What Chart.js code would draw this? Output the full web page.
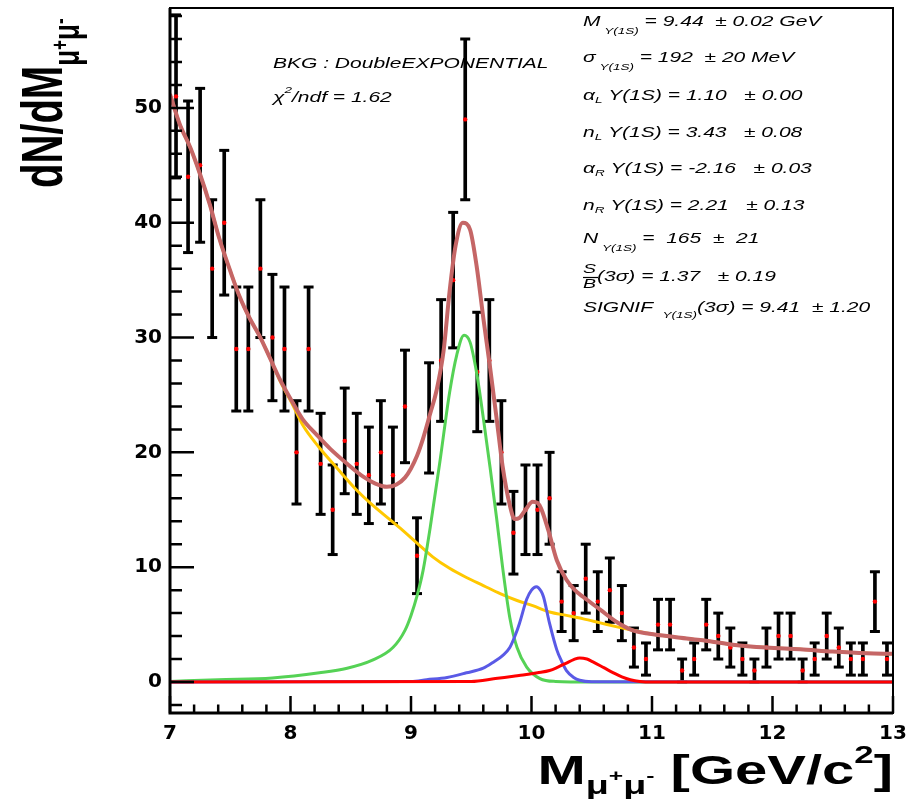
<!DOCTYPE html>
<html>
<head>
<meta charset="utf-8">
<script src="https://cdn.jsdelivr.net/npm/chart.js@4.4.1/dist/chart.umd.min.js"></script>
<style>
  html, body { margin: 0; padding: 0; background: #fff; }
  #wrap { width: 911px; height: 803px; position: relative; }
</style>
</head>
<body>
<div id="wrap"><canvas id="c"></canvas></div>
<script>
// dimuon mass spectrum, 0.1 GeV bins
const binCenters = [
  7.05, 7.15, 7.25, 7.35, 7.45, 7.55, 7.65, 7.75, 7.85, 7.95,
  8.05, 8.15, 8.25, 8.35, 8.45, 8.55, 8.65, 8.75, 8.85, 8.95,
  9.05, 9.15, 9.25, 9.35, 9.45, 9.55, 9.65, 9.75, 9.85, 9.95,
  10.05, 10.15, 10.25, 10.35, 10.45, 10.55, 10.65, 10.75, 10.85, 10.95,
  11.05, 11.15, 11.25, 11.35, 11.45, 11.55, 11.65, 11.75, 11.85, 11.95,
  12.05, 12.15, 12.25, 12.35, 12.45, 12.55, 12.65, 12.75, 12.85, 12.95
];
const counts = [
  51, 44, 45, 36, 40, 29, 29, 36, 30, 29,
  20, 29, 19, 15, 21, 19, 18, 20, 18, 24,
  11, 23, 28, 35, 49, 27, 28, 20, 13, 15,
  15, 16, 7, 6, 9, 7, 8, 6, 3, 2,
  5, 5, 1, 2, 5, 4, 3, 2, 1, 3,
  4, 4, 1, 2, 4, 3, 2, 2, 7, 2
];
const errors = [
  7.1, 6.6, 6.7, 6.0, 6.3, 5.4, 5.4, 6.0, 5.5, 5.4,
  4.5, 5.4, 4.4, 3.9, 4.6, 4.4, 4.2, 4.5, 4.2, 4.9,
  3.3, 4.8, 5.3, 5.9, 7.0, 5.2, 5.3, 4.5, 3.6, 3.9,
  3.9, 4.0, 2.6, 2.4, 3.0, 2.6, 2.8, 2.4, 1.7, 1.4,
  2.2, 2.2, 1.0, 1.4, 2.2, 2.0, 1.7, 1.4, 1.0, 1.7,
  2.0, 2.0, 1.0, 1.4, 2.0, 1.7, 1.4, 1.4, 2.6, 1.4
];

// fit components
const totalX = [7.0, 7.08, 7.17, 7.25, 7.33, 7.41, 7.5, 7.58, 7.66, 7.75, 7.83, 7.91, 8.02, 8.1, 8.22, 8.33,
  8.47, 8.6, 8.7, 8.8, 8.88, 8.95, 9.0, 9.05, 9.1, 9.16, 9.21, 9.27, 9.32, 9.37, 9.43, 9.49, 9.545,
  9.6, 9.656, 9.71, 9.76, 9.82, 9.86, 9.9, 9.95, 10.01, 10.05, 10.08, 10.14, 10.21, 10.29, 10.36,
  10.43, 10.57, 10.71, 10.84, 10.98, 11.2, 11.4, 11.67, 11.95, 12.23, 12.5, 12.78, 13.0];
const totalY = [51.2, 48.6, 46.5, 44.2, 41.6, 38.6, 35.8, 33.5, 31.7, 30.0, 28.2, 26.4, 24.3, 22.9, 21.5, 20.3,
  19.0, 17.9, 17.3, 17.0, 17.2, 17.8, 18.6, 19.7, 21.2, 23.4, 25.3, 28.8, 34.0, 38.0, 40.0, 39.4, 36.2,
  31.7, 27.4, 23.0, 18.8, 15.4, 14.2, 14.3, 15.0, 15.7, 15.6, 15.1, 13.2, 10.6, 8.9, 8.0,
  7.4, 6.3, 5.2, 4.5, 4.2, 3.9, 3.65, 3.25, 3.0, 2.85, 2.65, 2.5, 2.45];

const bkgX = [7.0, 7.08, 7.17, 7.25, 7.33, 7.41, 7.5, 7.58, 7.66, 7.75, 7.83, 7.91, 8.02, 8.1, 8.24, 8.38,
  8.55, 8.66, 8.83, 8.91, 9.05, 9.18, 9.32, 9.46, 9.6, 9.74, 9.88, 10.01, 10.15, 10.29, 10.43, 10.57,
  10.71, 10.84, 10.98, 11.2, 11.4, 11.67, 11.95, 12.23, 12.5, 12.78, 13.0];
const bkgY = [51.2, 48.6, 46.5, 44.2, 41.6, 38.6, 35.8, 33.5, 31.7, 30.0, 28.2, 26.3, 24.1, 22.4, 20.4, 18.7,
  16.7, 15.6, 14.1, 13.4, 12.1, 10.9, 9.9, 9.1, 8.4, 7.7, 7.1, 6.65, 6.1, 5.8, 5.5, 5.15,
  4.8, 4.5, 4.2, 3.9, 3.65, 3.25, 3.0, 2.85, 2.65, 2.5, 2.45];

const y1sX = [7.0, 7.4, 7.85, 8.24, 8.47, 8.68, 8.85, 8.95, 9.0, 9.05, 9.1, 9.16, 9.24, 9.32, 9.38, 9.44,
  9.49, 9.545, 9.6, 9.656, 9.71, 9.76, 9.82, 9.88, 9.96, 10.07, 10.2, 10.5, 13.0];
const y1sY = [0.05, 0.2, 0.35, 0.8, 1.2, 1.9, 3.0, 4.5, 5.8, 7.5, 9.7, 13.5, 19.2, 25.2, 28.5, 30.2,
  29.6, 26.9, 23.0, 18.7, 14.3, 10.0, 5.6, 3.0, 1.3, 0.3, 0.05, 0, 0];

const y2sX = [7.0, 9.0, 9.13, 9.3, 9.46, 9.6, 9.68, 9.76, 9.82, 9.87, 9.9, 9.96, 10.0, 10.04, 10.08, 10.1,
  10.15, 10.21, 10.25, 10.29, 10.35, 10.4, 10.5, 13.0];
const y2sY = [0, 0.05, 0.2, 0.4, 0.8, 1.2, 1.7, 2.3, 3.0, 4.2, 5.1, 7.2, 8.0, 8.3, 7.9, 7.4,
  5.1, 2.8, 1.8, 1.0, 0.4, 0.15, 0.02, 0];

const y3sX = [7.0, 9.5, 9.7, 9.85, 9.93, 10.05, 10.15, 10.22, 10.29, 10.35, 10.4, 10.46, 10.51, 10.6,
  10.68, 10.75, 10.82, 10.9, 11.0, 13.0];
const y3sY = [0, 0.05, 0.3, 0.5, 0.6, 0.8, 1.0, 1.3, 1.65, 1.95, 2.1, 2.0, 1.75, 1.25,
  0.8, 0.45, 0.2, 0.05, 0, 0];

const xTickLabels = [7, 8, 9, 10, 11, 12, 13];
const yTickLabels = [0, 10, 20, 30, 40, 50];

const pts = (xs, ys) => xs.map((x, i) => ({ x: x, y: ys[i] }));

function curve(label, xs, ys, color, width, order) {
  return {
    type: 'line',
    label: label,
    data: pts(xs, ys),
    borderColor: color,
    borderWidth: width,
    pointRadius: 0,
    fill: false,
    cubicInterpolationMode: 'monotone',
    order: order
  };
}

// draws a row of text pieces (sub/superscripts), stretched sideways like the original
function richText(ctx, x, y, parts, sx, alignRight) {
  let w = 0;
  parts.forEach(p => { ctx.font = p.font; p.w = ctx.measureText(p.t).width; w += p.w; });
  ctx.save();
  ctx.translate(alignRight ? x - w * sx : x, y);
  ctx.scale(sx, 1);
  let cx = 0;
  parts.forEach(p => { ctx.font = p.font; ctx.fillText(p.t, cx, p.dy || 0); cx += p.w; });
  ctx.restore();
}

const IT = 'italic 14px "Liberation Sans"';
const ITS = 'italic 9px "Liberation Sans"';
const SX = 1.45;   // titles
const SA = 1.5;    // fit annotations

const rootFrame = {
  id: 'rootFrame',
  beforeDraw(chart) {
    const ctx = chart.ctx;
    ctx.save();
    ctx.fillStyle = '#fff';
    ctx.fillRect(0, 0, chart.width, chart.height);
    ctx.restore();
  },
  afterDraw(chart) {
    const { ctx, chartArea: a, scales } = chart;
    const x = scales.x, y = scales.y;
    ctx.save();
    ctx.strokeStyle = '#000';
    ctx.lineWidth = 2;
    ctx.strokeRect(a.left, a.top, a.right - a.left, a.bottom - a.top);
    ctx.lineWidth = 3;
    ctx.beginPath();
    ctx.moveTo(a.left, a.top);
    ctx.lineTo(a.left, a.bottom);
    ctx.lineTo(a.right, a.bottom);
    ctx.stroke();

    // ROOT style ticks inside the frame
    ctx.lineWidth = 2.5;
    ctx.beginPath();
    x.ticks.forEach(t => {
      const px = x.getPixelForValue(t.value);
      const len = t.label !== '' ? 17 : 8.5;
      ctx.moveTo(px, a.bottom);
      ctx.lineTo(px, a.bottom - len);
    });
    y.ticks.forEach(t => {
      const py = y.getPixelForValue(t.value);
      const len = t.label !== '' ? 24 : 12;
      ctx.moveTo(a.left, py);
      ctx.lineTo(a.left + len, py);
    });
    ctx.stroke();

    ctx.fillStyle = '#000';
    ctx.textBaseline = 'alphabetic';
    ctx.textAlign = 'left';

    // x axis title
    const B = 'bold 40px "Liberation Sans"';
    const BS = 'bold 26px "Liberation Sans"';
    const BSS = 'bold 17px "Liberation Sans"';
    richText(ctx, 893, 784, [
      { t: 'M', font: B },
      { t: 'μ', font: BS, dy: 10 },
      { t: '+', font: BSS, dy: -3 },
      { t: 'μ', font: BS, dy: 10 },
      { t: '-', font: BSS, dy: -3 },
      { t: ' [GeV/c', font: B },
      { t: '2', font: 'bold 24px "Liberation Sans"', dy: -21 },
      { t: ']', font: B }
    ], SX, true);

    // y axis title, rotated
    ctx.save();
    ctx.translate(62, 188);
    ctx.rotate(-Math.PI / 2);
    ctx.scale(1, SX);
    let cx = 0;
    [
      { t: 'dN/dM', font: B },
      { t: 'μ', font: BS, dy: 12 },
      { t: '+', font: BSS, dy: 4 },
      { t: 'μ', font: BS, dy: 12 },
      { t: '-', font: BSS, dy: 4 }
    ].forEach(p => {
      ctx.font = p.font;
      ctx.fillText(p.t, cx, p.dy || 0);
      cx += ctx.measureText(p.t).width;
    });
    ctx.restore();

    // fit info, left block
    richText(ctx, 273, 68, [{ t: 'BKG : DoubleEXPONENTIAL', font: IT }], SA);
    richText(ctx, 273, 102, [
      { t: 'χ', font: IT },
      { t: '2', font: ITS, dy: -9 },
      { t: '/ndf = 1.62', font: IT }
    ], SA);

    // fit parameters, right block
    const L = 583;
    richText(ctx, L, 26, [{ t: 'M', font: IT }, { t: ' Y(1S)', font: ITS, dy: 8 }, { t: ' = 9.44  ± 0.02 GeV', font: IT }], SA);
    richText(ctx, L, 62, [{ t: 'σ', font: IT }, { t: ' Y(1S)', font: ITS, dy: 8 }, { t: ' = 192  ± 20 MeV', font: IT }], SA);
    richText(ctx, L, 100, [{ t: 'α', font: IT }, { t: 'L', font: ITS, dy: 3 }, { t: ' Y(1S) = 1.10   ± 0.00', font: IT }], SA);
    richText(ctx, L, 137, [{ t: 'n', font: IT }, { t: 'L', font: ITS, dy: 3 }, { t: ' Y(1S) = 3.43   ± 0.08', font: IT }], SA);
    richText(ctx, L, 173, [{ t: 'α', font: IT }, { t: 'R', font: ITS, dy: 3 }, { t: ' Y(1S) = -2.16   ± 0.03', font: IT }], SA);
    richText(ctx, L, 210, [{ t: 'n', font: IT }, { t: 'R', font: ITS, dy: 3 }, { t: ' Y(1S) = 2.21   ± 0.13', font: IT }], SA);
    richText(ctx, L, 243, [{ t: 'N', font: IT }, { t: ' Y(1S)', font: ITS, dy: 8 }, { t: ' =  165  ±  21', font: IT }], SA);

    // S/B fraction
    const FR = 'italic 13px "Liberation Sans"';
    ctx.font = FR;
    const fw = ctx.measureText('B').width * SA;
    richText(ctx, L, 273, [{ t: 'S', font: FR }], SA);
    richText(ctx, L, 288, [{ t: 'B', font: FR }], SA);
    ctx.lineWidth = 1.2;
    ctx.beginPath();
    ctx.moveTo(L, 277.5);
    ctx.lineTo(L + fw + 2, 277.5);
    ctx.stroke();
    richText(ctx, L + fw + 1, 281, [{ t: '(3σ) = 1.37   ± 0.19', font: IT }], SA);

    richText(ctx, L, 312, [{ t: 'SIGNIF ', font: IT }, { t: ' Y(1S)', font: ITS, dy: 6 }, { t: '(3σ) = 9.41  ± 1.20', font: IT }], SA);

    ctx.restore();
  }
};

new Chart(document.getElementById('c'), {
  type: 'line',
  data: {
    datasets: [
      curve('Total', totalX, totalY, '#c56666', 4, 0),
      curve('Y(3S)', y3sX, y3sY, '#ff0000', 3, 1),
      curve('Y(2S)', y2sX, y2sY, '#5a5ae6', 3, 2),
      curve('Y(1S)', y1sX, y1sY, '#55d255', 3, 3),
      curve('Background', bkgX, bkgY, '#ffc800', 3, 4),
      {
        type: 'scatter',
        label: 'Data',
        data: pts(binCenters, counts),
        pointStyle: 'circle',
        pointRadius: 2.2,
        pointBackgroundColor: '#ff0000',
        pointBorderWidth: 0,
        showLine: false,
        order: 5
      },
      {
        type: 'scatter',
        label: 'caps',
        data: binCenters.map((x, i) => ({ x: x, y: counts[i] + errors[i] }))
          .concat(binCenters.map((x, i) => ({ x: x, y: counts[i] - errors[i] }))),
        pointStyle: 'line',
        pointRadius: 5,
        pointBorderWidth: 3,
        pointBorderColor: '#000',
        showLine: false,
        order: 6
      },
      {
        type: 'bar',
        label: 'errors',
        data: binCenters.map((x, i) => ({ x: x, y: [counts[i] - errors[i], counts[i] + errors[i]] })),
        backgroundColor: '#000',
        borderWidth: 0,
        barThickness: 3,
        order: 7
      }
    ]
  },
  options: {
    responsive: true,
    maintainAspectRatio: false,
    animation: false,
    events: [],
    layout: { padding: { top: 7, right: 18, left: 0, bottom: 0 } },
    plugins: { legend: { display: false }, tooltip: { enabled: false } },
    scales: {
      x: {
        type: 'linear',
        min: 7,
        max: 13,
        offset: false,
        border: { display: false },
        grid: { display: false, drawTicks: false },
        afterFit: (s) => { s.height = 90; s.paddingLeft = 0; s.paddingRight = 0; },
        ticks: {
          stepSize: 0.2,
          autoSkip: false,
          maxRotation: 0,
          minRotation: 0,
          padding: 9,
          color: '#000',
          font: { family: '"DejaVu Sans"', weight: 'bold', size: 20 },
          callback: (v) => xTickLabels.includes(Math.round(v * 10) / 10) ? String(Math.round(v)) : ''
        }
      },
      y: {
        type: 'linear',
        min: -2.7,
        max: 58.7,
        border: { display: false },
        grid: { display: false, drawTicks: false },
        afterFit: (s) => { s.width = 170; s.paddingTop = 0; s.paddingBottom = 0; },
        ticks: {
          stepSize: 2,
          includeBounds: false,
          autoSkip: false,
          padding: 8,
          color: '#000',
          font: { family: '"DejaVu Sans"', weight: 'bold', size: 20 },
          callback: (v) => yTickLabels.includes(Math.round(v * 10) / 10) ? String(Math.round(v)) : ''
        }
      }
    }
  },
  plugins: [rootFrame]
});
</script>
</body>
</html>
